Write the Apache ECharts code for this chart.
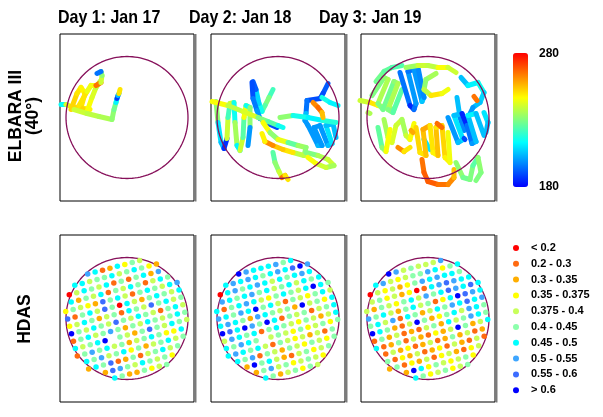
<!DOCTYPE html>
<html>
<head>
<meta charset="utf-8">
<script src="https://cdn.jsdelivr.net/npm/echarts@6/dist/echarts.min.js"></script>
<style>html,body{margin:0;padding:0;background:#fff}#chart{width:603px;height:417px}</style>
</head>
<body>
<div id="chart"></div>
<script>
// ELBARA III (40°) footprint tracks and HDAS sampling points, three days

const dayTitles = ['Day 1: Jan 17', 'Day 2: Jan 18', 'Day 3: Jan 19'];
const rowLabels = ['ELBARA III\n(40°)', 'HDAS'];

// brightness temperature range of the colour bar
const tbMin = 180;
const tbMax = 280;

// tracks: [x, y, Tb], x/y relative to the circle centre (radius 61)
const day1Tracks = [
    [[-66, 13, 188], [-61, 13, 214], [-56, 11, 242], [-50, 10, 250], [-43, 9, 252], [-37, 8, 248]],
    [[-56, 8, 250], [-50, 24, 252], [-46, 30, 250], [-42, 24, 248], [-46, 10, 250], [-40, 6, 252], [-35, 20, 246], [-31, 30, 242], [-27, 36, 238]],
    [[-48, 12, 248], [-40, 26, 250], [-36, 32, 244], [-31, 32, 245], [-26, 35, 265], [-25, 42, 240], [-26, 46, 232], [-30, 44, 195]],
    [[-53, 8, 244], [-40, 4, 240], [-28, 1, 238], [-15, -2, 236]],
    [[-15, -2, 212], [-13, 8, 232], [-11, 15, 228], [-10, 19, 212], [-9, 22, 188], [-8, 24, 205], [-7, 28, 250]]
];
const day2Tracks = [
    [[-5, 28, 212], [-9, 20, 222], [-13, 12, 230], [-16, 6, 225], [-19, 14, 215], [-22, 28, 208], [-25, 36, 192]],
    [[-26, 35, 186], [-25, 19, 190], [-21, 7, 196], [-18, -1, 200], [-10, -6, 195], [-1, -10, 190]],
    [[-62, 16, 215], [-60, -5, 232], [-57, -25, 210], [-54, -31, 205], [-51, -21, 186], [-50, 0, 240], [-48, 14, 222], [-44, 15, 240], [-43, -5, 215], [-41, -28, 235], [-38, -33, 212], [-35, -20, 240], [-34, 0, 225], [-32, 12, 246], [-28, 10, 215], [-28, -10, 232], [-30, -28, 200]],
    [[-66, 16, 225], [-50, 12, 246], [-35, 6, 238], [-20, 0, 242], [-10, -4, 230], [0, -8, 225], [5, -10, 215]],
    [[-15, -5, 236], [-8, -15, 246], [0, -22, 232], [10, -25, 244], [20, -28, 226], [28, -30, 234], [26, -38, 232], [15, -35, 238], [5, -32, 250], [-5, -28, 254], [-13, -24, 262], [-16, -16, 248]],
    [[-5, -35, 195], [-3, -45, 225], [1, -54, 232], [4, -60, 240], [7, -58, 265], [10, -62, 250]],
    [[50, 34, 195], [45, 24, 192], [42, 19, 190], [29, 17, 190], [28, 4, 195], [27, -3, 205]],
    [[27, -3, 205], [30, -8, 200], [40, -28, 200], [44, -28, 204], [36, -10, 200], [42, -8, 200], [50, -28, 200], [54, -26, 205], [48, -8, 210], [55, -6, 205], [58, -20, 205]],
    [[2, 0, 225], [15, 2, 232], [30, 0, 216], [45, -3, 212], [58, -5, 218]],
    [[35, 15, 250], [40, 10, 262], [44, 5, 266], [45, 0, 255]],
    [[28, -35, 235], [40, -38, 230], [50, -42, 236], [56, -48, 240], [48, -50, 235], [38, -46, 240], [30, -40, 246]],
    [[44, 20, 210], [52, 15, 216], [60, 12, 212]]
];
const day3Tracks = [
    [[-68, 17, 230], [-58, 15, 240], [-50, 12, 250], [-42, 10, 245], [-34, 8, 232]],
    [[-56, 22, 232], [-44, 40, 230], [-40, 38, 232], [-50, 14, 236], [-45, 8, 230], [-34, 36, 228], [-30, 34, 232], [-40, 8, 236], [-35, 5, 230], [-26, 28, 225]],
    [[-52, 36, 232], [-44, 46, 228], [-36, 50, 226], [-26, 52, 224]],
    [[-28, 45, 200], [-18, 12, 195], [-14, 8, 185], [-12, 14, 195], [-20, 46, 200], [-14, 48, 195], [-6, 16, 200], [-4, 20, 206], [-10, 50, 198]],
    [[-22, 50, 225], [-10, 52, 234], [0, 52, 240], [10, 50, 238], [20, 50, 246], [28, 45, 240]],
    [[8, 44, 240], [-2, 38, 235], [-4, 28, 232], [3, 22, 238], [14, 24, 250], [20, 28, 245]],
    [[33, 40, 185], [40, 32, 205], [50, 35, 212], [56, 25, 215], [52, 15, 208], [45, 10, 205], [40, 0, 200], [35, -10, 205]],
    [[29, 20, 200], [32, 0, 205], [36, -13, 198]],
    [[46, 21, 258], [49, 17, 265]],
    [[56, 5, 215], [60, -5, 210], [58, -15, 205]],
    [[20, 0, 215], [30, -25, 200], [35, -22, 205], [26, 2, 210], [34, 4, 205], [39, -8, 185], [44, -26, 195], [48, -24, 200], [40, 2, 205], [48, 4, 212], [56, -18, 205]],
    [[36, -21, 185], [37, -22, 190]],
    [[-44, -2, 240], [-40, -20, 235], [-36, -25, 238], [-32, -8, 242], [-26, -2, 240], [-22, -18, 235], [-18, -22, 240], [-14, -6, 246]],
    [[-50, -10, 238], [-46, -30, 226], [-42, -34, 232], [-38, -12, 246]],
    [[-30, -30, 232], [-24, -34, 262], [-18, -30, 250]],
    [[-4, -22, 212], [2, -32, 210]],
    [[-12, -10, 250], [-8, -35, 252], [-2, -38, 250], [-5, -12, 255], [2, -8, 258], [5, -35, 250], [10, -38, 248], [8, -10, 255], [14, -8, 250], [17, -40, 252], [22, -45, 248], [20, -15, 245]],
    [[9, -6, 262], [14, -10, 266]],
    [[-17, -13, 262], [-15, -15, 258]],
    [[-6, -42, 262], [-4, -55, 265], [0, -64, 268], [10, -67, 268], [20, -67, 265], [26, -60, 262], [26, -52, 255]],
    [[28, -45, 230], [35, -60, 232], [42, -62, 228], [45, -48, 230], [50, -40, 225], [53, -55, 232], [48, -63, 230]],
    [[-60, 5, 232], [-58, 4, 236]]
];

// HDAS soil moisture classes
const hdasBinLabels = ['< 0.2', '0.2 - 0.3', '0.3 - 0.35', '0.35 - 0.375', '0.375 - 0.4',
    '0.4 - 0.45', '0.45 - 0.5', '0.5 - 0.55', '0.55 - 0.6', '> 0.6'];
const hdasBinEdges = [0.2, 0.3, 0.35, 0.375, 0.4, 0.45, 0.5, 0.55, 0.6];
const hdasBinValues = [0.15, 0.25, 0.325, 0.36, 0.39, 0.425, 0.475, 0.525, 0.575, 0.65];

// HDAS sampling grid, one row per grid line (top to bottom), class index per point, '.' = no sample
const hdasDay1 = [
    '..................',
    '.....76126354.....',
    '...664556456532...',
    '..0465461515627...',
    '..62546154651465..',
    '.3543285641565467.',
    '.8156485064256546.',
    '.3465245165485645.',
    '.9546548546541564.',
    '.1564575254654565.',
    '.64569.5425854654.',
    '.157564524565336..',
    '..65745635245645..',
    '..2658125145645...',
    '....2875465453....',
    '.....65225345.....'
];
const hdasDay2 = [
    '..................',
    '.....97666756.....',
    '...676765676897...',
    '..0675676465676...',
    '..76567564564656..',
    '.6156764356546965.',
    '.7657695641543564.',
    '.6765276545294536.',
    '.9869759615451456.',
    '.4765615654354246.',
    '.65765.4543534535.',
    '.676564154342415..',
    '..65715425435435..',
    '...295642145345...',
    '....2574534543....',
    '.....65245354.....'
];
const hdasDay3 = [
    '..................',
    '.....97454447.....',
    '...674345576356...',
    '..0434235767665...',
    '..45342301678766..',
    '.4254356475687686.',
    '.7564256451369876.',
    '.5647165246576867.',
    '.9652149523564765.',
    '.1524121452645765.',
    '.6125142132495246.',
    '..14231241252412..',
    '..51324123142141..',
    '..2513241342134...',
    '....2963543453....',
    '.....65345345.....'
];

const footprintRadius = 61;
const hdasSpacing = 7.67;
const hdasAngle = 14.6 * Math.PI / 180;

const jetColors = ['#0000ff', '#0080ff', '#00ffff', '#80ff80', '#ffff00', '#ff8000', '#ff0000'];
const binColors = ['#ff0000', '#ff6a10', '#ffae00', '#ffff00', '#c8ff5a', '#8cffac',
    '#00ffff', '#3ea6ff', '#3c6cff', '#0000ff'];

function trackSegments(tracks) {
    const out = [];
    tracks.forEach(tr => {
        for (let n = 0; n < tr.length; n++) {
            const a = tr[Math.max(n - 1, 0)];
            const b = tr[n];
            out.push([a[0], a[1], b[0], b[1], b[2]]);
        }
    });
    return out;
}

function hdasPoints(rows) {
    const pts = [];
    const c = Math.cos(hdasAngle), s = Math.sin(hdasAngle);
    rows.forEach((row, r) => {
        const b = r - 8 + 0.1;
        for (let k = 0; k < row.length; k++) {
            if (row[k] === '.') continue;
            const a = k - 9 + 0.5;
            pts.push([
                hdasSpacing * (a * c + b * s),
                hdasSpacing * (a * s - b * c),
                hdasBinValues[+row[k]]
            ]);
        }
    });
    return pts;
}

function circlePoints() {
    const p = [];
    for (let t = 0; t <= 144; t++) {
        const ang = t / 144 * 2 * Math.PI;
        p.push([footprintRadius * Math.cos(ang), footprintRadius * Math.sin(ang)]);
    }
    return p;
}

const colLeft = [60, 211, 361];
const rowTop = [34, 235];
const panelW = 134;
const panelH = 167;
const font = '"Liberation Sans", Arial, sans-serif';

const grids = [], xAxes = [], yAxes = [];
const graphic = [];
for (let r = 0; r < 2; r++) {
    for (let c = 0; c < 3; c++) {
        const idx = r * 3 + c;
        grids.push({
            left: colLeft[c], top: rowTop[r], width: panelW, height: panelH,
            show: true, backgroundColor: '#fff', borderColor: '#000', borderWidth: 1
        });
        xAxes.push({ gridIndex: idx, type: 'value', min: -67, max: 67, show: false });
        yAxes.push({ gridIndex: idx, type: 'value', min: -83.5, max: 83.5, show: false });
        // grey edge on the right of each frame
        graphic.push({
            type: 'rect', silent: true,
            shape: { x: colLeft[c] + panelW + 0.5, y: rowTop[r], width: 2, height: panelH + 0.5 },
            style: { fill: '#7a7a7a' }
        });
    }
}

const series = [];
[day1Tracks, day2Tracks, day3Tracks].forEach((tracks, c) => {
    series.push({
        type: 'custom',
        xAxisIndex: c, yAxisIndex: c,
        data: trackSegments(tracks),
        encode: { x: [0, 2], y: [1, 3] },
        renderItem: function (params, api) {
            const p0 = api.coord([api.value(0), api.value(1)]);
            const p1 = api.coord([api.value(2), api.value(3)]);
            return {
                type: 'line',
                shape: { x1: p0[0], y1: p0[1], x2: p1[0], y2: p1[1] },
                style: { stroke: api.visual('color'), lineWidth: 5, lineCap: 'round', lineJoin: 'round' }
            };
        },
        z: 2
    });
});
[hdasDay1, hdasDay2, hdasDay3].forEach((rows, c) => {
    series.push({
        type: 'scatter',
        xAxisIndex: 3 + c, yAxisIndex: 3 + c,
        data: hdasPoints(rows),
        symbolSize: 5.5,
        itemStyle: { opacity: 1 },
        z: 3
    });
});
for (let idx = 0; idx < 6; idx++) {
    series.push({
        type: 'line',
        xAxisIndex: idx, yAxisIndex: idx,
        data: circlePoints(),
        showSymbol: false,
        silent: true,
        lineStyle: { color: '#86105a', width: 1.3 },
        z: idx < 3 ? 4 : 2
    });
}

const pieces = hdasBinLabels.map((label, n) => {
    const p = { label: label, color: binColors[n] };
    if (n > 0) p.gte = hdasBinEdges[n - 1];
    if (n < hdasBinEdges.length) p.lt = hdasBinEdges[n];
    return p;
});

dayTitles.forEach((t, c) => {
    graphic.push({
        type: 'text', x: [58, 189, 319][c], y: 18, scaleY: 1.2,
        style: { text: t, font: 'bold 16px ' + font, fill: '#000', verticalAlign: 'middle' }
    });
});
graphic.push({
    type: 'text', x: 25, y: 116, rotation: Math.PI / 2,
    style: { text: rowLabels[0], font: 'bold 17.5px ' + font, fill: '#000', align: 'center', verticalAlign: 'middle', lineHeight: 17 }
});
graphic.push({
    type: 'text', x: 25, y: 319, rotation: Math.PI / 2,
    style: { text: rowLabels[1], font: 'bold 17.5px ' + font, fill: '#000', align: 'center', verticalAlign: 'middle' }
});
graphic.push({
    type: 'text', x: 539, y: 54,
    style: { text: String(tbMax), font: 'bold 12px ' + font, fill: '#000', verticalAlign: 'middle' }
});
graphic.push({
    type: 'text', x: 539, y: 187,
    style: { text: String(tbMin), font: 'bold 12px ' + font, fill: '#000', verticalAlign: 'middle' }
});

const chart = echarts.init(document.getElementById('chart'), null, { renderer: 'canvas' });
chart.setOption({
    animation: false,
    backgroundColor: '#fff',
    grid: grids,
    xAxis: xAxes,
    yAxis: yAxes,
    visualMap: [
        {
            type: 'continuous',
            seriesIndex: [0, 1, 2],
            dimension: 4,
            min: tbMin, max: tbMax,
            calculable: false,
            left: 498, top: 38,
            itemWidth: 15, itemHeight: 134,
            inRange: { color: jetColors }
        },
        {
            type: 'piecewise',
            seriesIndex: [3, 4, 5],
            dimension: 2,
            pieces: pieces,
            inverse: true,
            align: 'left',
            left: 498, top: 226,
            itemSymbol: 'circle',
            itemWidth: 6, itemHeight: 6,
            itemGap: 1.8,
            textGap: 12,
            textStyle: { fontFamily: font, fontWeight: 'bold', fontSize: 11, color: '#000', lineHeight: 14 }
        }
    ],
    graphic: graphic,
    series: series
});
</script>
</body>
</html>
